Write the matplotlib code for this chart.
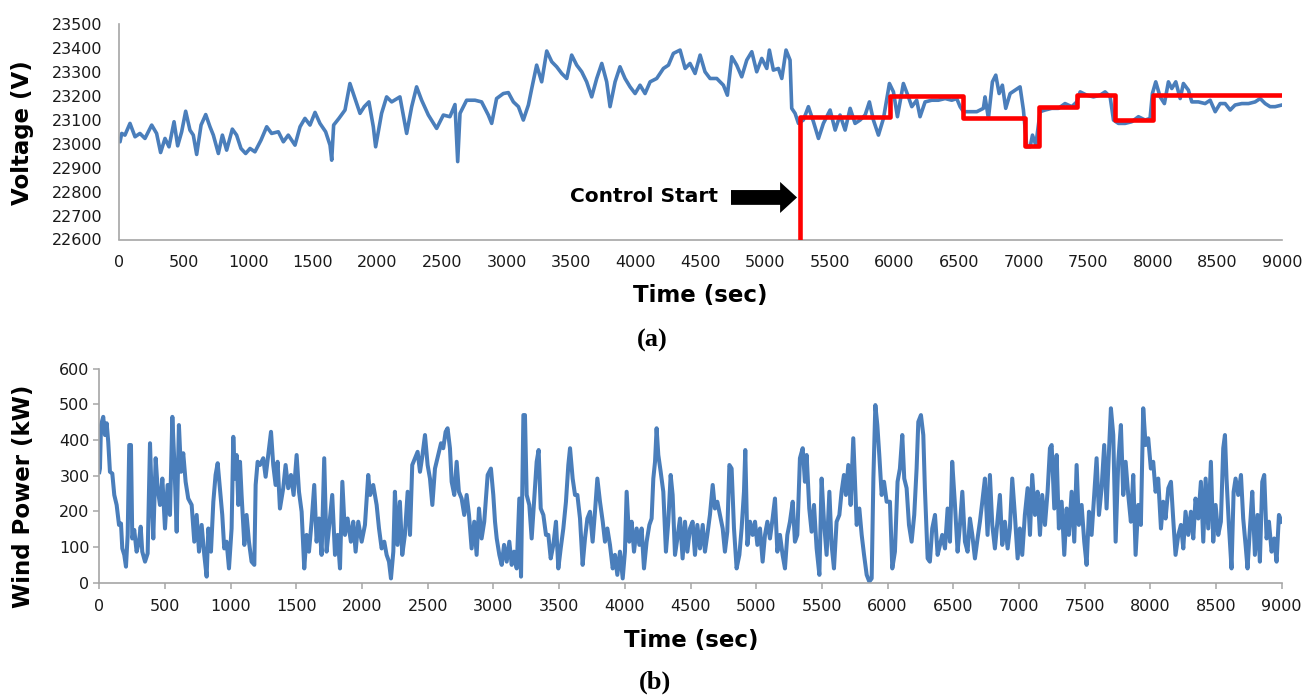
import matplotlib
matplotlib.use('Agg')
import matplotlib.pyplot as plt
from matplotlib.patches import FancyArrow

# ---------------- data ----------------
volt_t = [0, 8, 21, 46, 85, 124, 162, 201, 253, 291, 322, 356, 387, 426, 454, 485, 516, 549, 575, 601,
          635, 671, 704, 730, 769, 800, 833, 877, 910, 944, 980, 1014, 1052, 1099, 1143, 1181, 1233, 1272,
          1310, 1362, 1401, 1439, 1478, 1517, 1555, 1599, 1633, 1646, 1661, 1702, 1749, 1787, 1826, 1865,
          1898, 1934, 1968, 1986, 2032, 2071, 2110, 2174, 2226, 2265, 2303, 2342, 2394, 2458, 2510, 2561,
          2600, 2621, 2639, 2690, 2755, 2806, 2858, 2884, 2922, 2974, 3013,
          3052, 3091, 3129, 3168, 3194, 3232, 3271, 3310, 3349, 3387, 3426, 3465, 3503, 3542, 3581, 3619,
          3658, 3697, 3736, 3774, 3800, 3839, 3877, 3916, 3955, 3994, 4032, 4071, 4110, 4161, 4213, 4252,
          4290, 4342, 4381, 4419, 4458, 4497, 4535, 4574, 4626, 4677, 4708, 4742, 4780, 4819, 4858, 4897,
          4935, 4974, 5013, 5033, 5064, 5103, 5129, 5162, 5193, 5206, 5232, 5258, 5296, 5335, 5374, 5413,
          5451, 5503, 5542, 5580, 5619, 5658, 5696, 5735, 5774, 5807, 5838, 5877, 5916, 5962, 5993, 6024,
          6070, 6109, 6135, 6173, 6199, 6238, 6289, 6341, 6393, 6444, 6483, 6509, 6535, 6586, 6638, 6689,
          6702, 6728, 6759, 6785, 6811, 6836, 6862, 6896, 6934, 6973, 6999, 7025, 7051, 7069, 7095, 7128,
          7167, 7218, 7270, 7321, 7373, 7412, 7438, 7489, 7541, 7592, 7631, 7670, 7696, 7734, 7786, 7837,
          7889, 7941, 7979, 7997, 8023, 8057, 8090, 8121, 8147, 8178, 8212, 8237, 8276, 8302, 8353, 8405,
          8444, 8483, 8521, 8560, 8599, 8637, 8689, 8741, 8792, 8831, 8870, 8908, 8947, 8999]
volt_v = [23015, 23009, 23044, 23037, 23086, 23030, 23044, 23023, 23079, 23044, 22964, 23023, 22988, 23093,
          22992, 23051, 23137, 23058, 23037, 22956, 23079, 23123, 23072, 23037, 22960, 23037, 22974, 23062,
          23037, 22981, 22960, 22981, 22967, 23016, 23072, 23044, 23051, 23009, 23037, 22995, 23072, 23107,
          23079, 23132, 23086, 23051, 22995, 22932, 23079, 23107, 23142, 23253, 23190, 23128, 23156, 23176,
          23072, 22988, 23128, 23197, 23176, 23197, 23044, 23156, 23239, 23183, 23121, 23065, 23121, 23114,
          23165, 22926, 23128, 23183, 23183, 23176, 23121, 23086, 23190, 23211, 23215,
          23176, 23156, 23100, 23163, 23232, 23330, 23260, 23389, 23344, 23323, 23295, 23274, 23372, 23330,
          23302, 23260, 23197, 23274, 23337, 23260, 23156, 23260, 23323, 23274, 23239, 23211, 23246, 23211,
          23260, 23274, 23316, 23330, 23379, 23393, 23316, 23337, 23295, 23372, 23302, 23274, 23274, 23246,
          23204, 23365, 23330, 23281, 23351, 23386, 23302, 23358, 23316, 23393, 23309, 23316, 23274, 23393,
          23351, 23149, 23128, 23086, 23100, 23156, 23093, 23023, 23086, 23142, 23058, 23121, 23058, 23149,
          23086, 23100, 23121, 23176, 23100, 23037, 23107, 23253, 23218, 23114, 23253, 23197, 23156, 23183,
          23114, 23176, 23183, 23183, 23190, 23183, 23190, 23156, 23135, 23135, 23135, 23149, 23197, 23107,
          23260, 23288, 23211, 23246, 23149, 23211, 23225, 23239, 23142, 22988, 22988, 23037, 22995, 23135,
          23142, 23149, 23149, 23169, 23156, 23176, 23218, 23204, 23197, 23204, 23218, 23197, 23100, 23086,
          23086, 23093, 23114, 23100, 23107, 23211, 23260, 23197, 23169, 23260, 23232, 23260, 23190, 23253,
          23225, 23176, 23176, 23169, 23183, 23135, 23169, 23169, 23142, 23163, 23169, 23169, 23176, 23190,
          23169, 23156, 23156, 23163]

ctrl_t = [5270, 5270, 5970, 6530, 7015, 7120, 7410, 7710, 8000, 9000]
ctrl_v = [22600, 23112, 23200, 23110, 22992, 23155, 23205, 23100, 23205, 23205]

wind_t = [0, 5, 13, 30, 43, 56, 68, 81, 99, 114, 132, 150, 165, 175, 190, 203, 216, 228, 241, 251, 266, 284,
          302, 315, 327, 348, 368, 386, 398, 411, 429, 444, 462, 480, 500, 520, 538, 556, 571, 589, 606, 622,
          639, 657, 677, 703, 723, 741, 759, 779, 799, 817, 830, 850, 868, 885, 901, 918, 936, 951, 969, 987,
          1007, 1020, 1032, 1045, 1058, 1071, 1083, 1104, 1121, 1139, 1159, 1180, 1190, 1205, 1223, 1248,
          1266, 1286, 1307, 1324, 1342, 1357, 1375, 1400, 1418, 1438, 1459, 1479, 1502, 1520, 1540, 1560,
          1578, 1596, 1616, 1636, 1654, 1672, 1692, 1712, 1730, 1748, 1773, 1794, 1814, 1832, 1850, 1870,
          1890, 1915, 1933, 1951, 1971, 1997, 2022, 2047, 2062, 2085, 2111, 2129, 2149, 2169, 2187, 2205,
          2220, 2238, 2250, 2270, 2288, 2306, 2326, 2347, 2365, 2382, 2403, 2423, 2441, 2458, 2479, 2499,
          2517, 2535, 2555, 2580, 2601, 2618, 2636, 2651, 2669, 2682, 2702, 2720, 2737, 2758, 2778, 2796,
          2814, 2834, 2854, 2872, 2890, 2910, 2930, 2956, 2981, 2999,
          3012, 3025, 3045, 3063, 3081, 3101, 3121, 3139, 3157, 3177, 3197, 3210, 3228, 3240, 3253, 3273,
          3291, 3309, 3329, 3344, 3360, 3380, 3400, 3418, 3436, 3456, 3476, 3494, 3512, 3532, 3552, 3570,
          3583, 3603, 3621, 3639, 3659, 3679, 3697, 3715, 3735, 3755, 3773, 3791, 3811, 3832, 3849, 3867,
          3887, 3908, 3925, 3943, 3963, 3984, 4001, 4014, 4034, 4052, 4070, 4090, 4111, 4128, 4146, 4166,
          4187, 4204, 4217, 4230, 4242, 4255, 4273, 4293, 4313, 4331, 4349, 4364, 4382, 4400, 4420, 4440,
          4458, 4476, 4496, 4516, 4534, 4552, 4572, 4593, 4610, 4628, 4648, 4669, 4686, 4704, 4724, 4745,
          4762, 4780, 4796, 4813, 4831, 4851, 4872, 4889, 4907, 4917, 4933, 4953, 4973, 4991, 5009, 5029,
          5049, 5067, 5085, 5105, 5125, 5143, 5161, 5181, 5201, 5219, 5237, 5257, 5278, 5295, 5313, 5333,
          5354, 5371, 5384, 5404, 5422, 5440, 5460, 5481, 5498, 5516, 5536, 5557, 5574, 5592, 5612, 5633,
          5650, 5668, 5683, 5701, 5719, 5739, 5752, 5765, 5785, 5803, 5821, 5841, 5861, 5879, 5892, 5907,
          5922, 5937, 5955, 5973, 5993,
          6018, 6036, 6056, 6076, 6094, 6112, 6127, 6145, 6163, 6183, 6203, 6221, 6234, 6254, 6272, 6284,
          6305, 6322, 6340, 6361, 6381, 6399, 6416, 6437, 6457, 6475, 6492, 6513, 6533, 6551, 6569, 6589,
          6609, 6627, 6645, 6665, 6685, 6703, 6721, 6741, 6761, 6779, 6797, 6817, 6838, 6855, 6873, 6893,
          6914, 6931, 6949, 6969, 6990, 7007, 7025, 7045, 7066, 7084, 7101, 7122, 7142, 7160, 7177, 7198,
          7218, 7236, 7249, 7269, 7287, 7304, 7325, 7345, 7363, 7380, 7401, 7421, 7439, 7456, 7477, 7497,
          7515, 7533, 7553, 7573, 7591, 7609, 7629, 7649, 7667, 7685, 7700, 7718, 7736, 7756, 7776, 7794,
          7812, 7832, 7852, 7870, 7888, 7908, 7928, 7946, 7964, 7984, 8004, 8022, 8040, 8060, 8081, 8098,
          8116, 8137, 8157, 8174, 8192, 8213, 8233, 8251, 8268, 8289, 8309, 8327, 8344, 8365, 8385, 8403,
          8421, 8441, 8461, 8479, 8497, 8517, 8537, 8555, 8568, 8580, 8598, 8618, 8634, 8649, 8669, 8690,
          8707, 8725, 8740, 8758, 8776, 8796, 8816, 8834, 8852, 8867, 8885, 8903, 8923, 8943, 8961, 8979,
          8999]
wind_p = [310, 320, 442, 465, 414, 447, 395, 311, 306, 246, 218, 162, 166, 96, 78, 45, 134, 386, 386, 124,
          148, 87, 115, 157, 87, 59, 82, 391, 246, 124, 349, 265, 218, 292, 152, 274, 190, 465, 339, 143, 442,
          311, 363, 283, 236, 218, 115, 190, 87, 162, 78, 17, 152, 87, 227, 302, 335, 265, 190, 96, 115, 40,
          152, 409, 292, 358, 218, 339, 246, 106, 190, 115, 59, 50, 274, 339, 330, 349, 297, 358, 423, 330,
          274, 339, 208, 265, 330, 265, 302, 246, 358, 255, 199, 40, 134, 87, 171, 274, 115, 180, 78, 349,
          87, 152, 246, 78, 134, 40, 283, 134, 180, 115, 171, 87, 171, 115, 162, 302, 246, 274, 218, 152, 96,
          115, 78, 59, 12, 87, 255, 106, 227, 78, 134, 255, 134, 330, 349, 367, 311, 353, 414, 330, 292, 218,
          320, 358, 391, 377, 423, 433, 377, 283, 246, 339, 255, 236, 190, 246, 190, 96, 171, 78, 208, 124,
          171, 302, 320, 246,
          171, 124, 78, 50, 106, 59, 115, 50, 87, 40, 236, 17, 470, 470, 246, 218, 124, 227, 339, 372, 208,
          190, 134, 134, 68, 106, 171, 40, 96, 152, 227, 330, 377, 292, 246, 246, 180, 50, 124, 180, 199, 115,
          199, 292, 227, 171, 115, 152, 106, 40, 78, 22, 87, 12, 87, 255, 115, 171, 87, 152, 106, 152, 40, 115,
          162, 180, 292, 339, 433, 358, 311, 255, 87, 171, 302, 246, 78, 124, 180, 68, 171, 87, 152, 171, 78,
          162, 96, 162, 87, 134, 190, 274, 208, 227, 190, 152, 87, 143, 330, 320, 152, 40, 78, 152, 255, 372,
          106, 171, 134, 171, 106, 152, 59, 134, 171, 124, 180, 236, 87, 134, 78, 40, 134, 171, 227, 115, 134,
          349, 377, 283, 358, 208, 143, 218, 96, 22, 292, 171, 78, 255, 106, 40, 171, 190, 255, 302, 246, 330,
          218, 405, 283, 162, 208, 134, 78, 22, 3, 12, 292, 498, 442, 358, 246, 283, 227,
          227, 40, 87, 283, 320, 414, 292, 265, 162, 115, 190, 320, 451, 470, 414, 265, 68, 59, 152, 190, 78,
          106, 134, 96, 208, 115, 339, 218, 87, 162, 255, 115, 87, 180, 134, 68, 124, 171, 227, 292, 134, 302,
          162, 96, 180, 246, 106, 171, 96, 152, 292, 190, 68, 152, 78, 190, 265, 134, 302, 190, 255, 134, 246,
          162, 255, 377, 386, 208, 358, 152, 227, 78, 208, 134, 255, 115, 330, 162, 218, 115, 50, 199, 134,
          246, 349, 190, 265, 386, 208, 367, 489, 414, 115, 339, 442, 246, 339, 246, 171, 302, 78, 218, 162,
          489, 386, 405, 320, 339, 255, 292, 152, 227, 180, 265, 283, 180, 78, 134, 162, 96, 199, 134, 199,
          124, 236, 180, 283, 115, 292, 152, 339, 115, 218, 134, 171, 377, 414, 292, 162, 40, 255, 292, 246,
          302, 180, 106, 40, 152, 255, 78, 190, 59, 283, 302, 124, 171, 87, 124, 59, 190, 171]

x_ticks = list(range(0, 9001, 500))
v_ticks = list(range(22600, 23501, 100))
p_ticks = list(range(0, 601, 100))

# ---------------- figure ----------------
W, H = 1304, 695
fig = plt.figure(figsize=(W / 100, H / 100), dpi=100)

def fx(px):
    return px / W

def fy(py):
    return 1 - py / H

blue = '#4a7ebb'
spine_c = '#a6a6a6'
tick_fs = 11.5
lab_fs = 16.5

ax1 = fig.add_axes([fx(119), fy(239.5), fx(1282) - fx(119), fy(24.5) - fy(239.5)])
ax2 = fig.add_axes([fx(99.3), fy(582.7), fx(1281.7) - fx(99.3), fy(368.7) - fy(582.7)])

for ax in (ax1, ax2):
    for s in ('top', 'right'):
        ax.spines[s].set_visible(False)
    for s in ('left', 'bottom'):
        ax.spines[s].set_color(spine_c)
        ax.spines[s].set_linewidth(1.2)
    ax.set_xlim(0, 9000)
    ax.set_xticks(x_ticks)

# top panel
ax1.plot(volt_t, volt_v, color=blue, lw=2.6, solid_joinstyle='round', zorder=2)
ax1.plot(ctrl_t, ctrl_v, drawstyle='steps-post', color='#ff0000', lw=3.3,
         solid_capstyle='projecting', zorder=3)
ax1.set_ylim(22600, 23500)
ax1.set_yticks(v_ticks)
ax1.tick_params(axis='both', length=0, labelsize=tick_fs, labelcolor='#1a1a1a')
ax1.tick_params(axis='x', pad=11)
ax1.tick_params(axis='y', pad=12)

ax1.text(4636, 22778, 'Control Start', ha='right', va='center',
         fontsize=14.5, fontweight='bold', color='black')
ax1.add_patch(FancyArrow(4736, 22776, 511, 0, width=62, head_width=130, head_length=131,
                         length_includes_head=True, color='black', lw=0, zorder=4))

# bottom panel
ax2.plot(wind_t, wind_p, color=blue, lw=2.9, solid_joinstyle='round')
ax2.set_ylim(0, 600)
ax2.set_yticks(p_ticks)
ax2.tick_params(axis='both', length=4, width=1.1, color=spine_c, direction='out',
                labelsize=tick_fs, labelcolor='#1a1a1a')
ax2.tick_params(axis='x', pad=8)
ax2.tick_params(axis='y', pad=3)

# labels
fig.text(fx(23), fy(133), 'Voltage (V)', rotation=90, ha='center', va='center',
         fontsize=lab_fs, fontweight='bold')
fig.text(fx(700), fy(296), 'Time (sec)', ha='center', va='center',
         fontsize=lab_fs, fontweight='bold')
fig.text(fx(652), fy(340), '(a)', ha='center', va='center', fontsize=19,
         fontweight='bold', family='Liberation Serif')
fig.text(fx(24), fy(496), 'Wind Power (kW)', rotation=90, ha='center', va='center',
         fontsize=lab_fs, fontweight='bold')
fig.text(fx(691), fy(640), 'Time (sec)', ha='center', va='center',
         fontsize=lab_fs, fontweight='bold')
fig.text(fx(655), fy(682), '(b)', ha='center', va='center', fontsize=19,
         fontweight='bold', family='Liberation Serif')

fig.savefig('out.png', dpi=100)
